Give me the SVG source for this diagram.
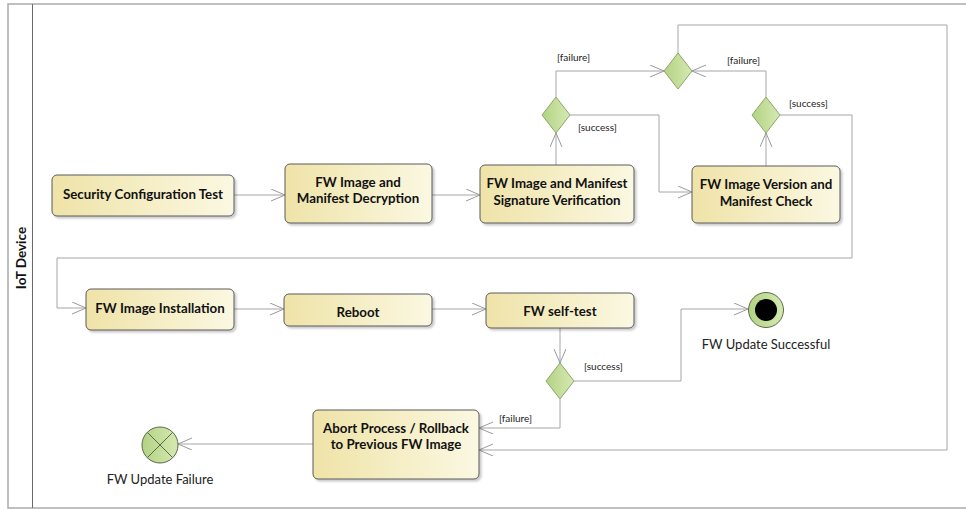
<svg xmlns="http://www.w3.org/2000/svg" width="966" height="509" viewBox="0 0 966 509">
<defs>
<linearGradient id="nodeGrad" x1="0" y1="0" x2="1" y2="0">
<stop offset="0" stop-color="#efe3a8"/>
<stop offset="1" stop-color="#fbf8e2"/>
</linearGradient>
<linearGradient id="greenGrad" x1="0" y1="0" x2="1" y2="0">
<stop offset="0" stop-color="#b3d383"/>
<stop offset="1" stop-color="#d5e9b2"/>
</linearGradient>
<filter id="shadow" x="-10%" y="-10%" width="130%" height="140%">
<feDropShadow dx="2" dy="2" stdDeviation="1.2" flood-color="#000" flood-opacity="0.22"/>
</filter>
<marker id="arr" markerUnits="userSpaceOnUse" markerWidth="16" markerHeight="14" refX="14" refY="6" orient="auto">
<path d="M0,0 L14,6 L0,12" fill="none" stroke="#9a9a9a" stroke-width="1"/>
</marker>
<style>
.node{fill:url(#nodeGrad);stroke:#5a5a5a;stroke-width:1;filter:url(#shadow)}
.dia{fill:url(#greenGrad);stroke:#8da56a;stroke-width:1}
.lbl{font-family:Lato,"Liberation Sans",sans-serif;font-weight:bold;font-size:13.3px;fill:#111;text-anchor:middle}
.guard{font-family:Lato,"Liberation Sans",sans-serif;font-size:10px;fill:#222}
.cap{font-family:Lato,"Liberation Sans",sans-serif;font-size:13px;fill:#222;text-anchor:middle}
.conn{fill:none;stroke:#a6a6a6;stroke-width:1;marker-end:url(#arr)}
</style>
</defs>
<rect x="0" y="0" width="966" height="509" fill="#fff"/>
<g id="frame">
<path d="M970,4 H8 V508 H970" fill="none" stroke="#aaaaaa" stroke-width="1.5"/>
<line x1="32.5" y1="4" x2="32.5" y2="508" stroke="#6a6a6a" stroke-width="1"/>
<text transform="translate(26,258) rotate(-90)" class="lbl" style="font-size:13.5px">IoT Device</text>
</g>
<g id="connectors">
<line class="conn" x1="234" y1="195" x2="285" y2="195"/>
<line class="conn" x1="432" y1="195" x2="480" y2="195"/>
<line class="conn" x1="556" y1="165" x2="556" y2="133"/>
<path class="conn" d="M556,97 V71 H664"/>
<path class="conn" d="M570,115 H659 V192 H692"/>
<line class="conn" x1="766" y1="166" x2="766" y2="133"/>
<path class="conn" d="M766,97 V71 H692"/>
<path class="conn" d="M780,115 H852 V258 H57 V308 H86"/>
<path class="conn" d="M678,53 V25 H947 V450 H479"/>
<line class="conn" x1="234" y1="309" x2="284" y2="309"/>
<line class="conn" x1="432" y1="309" x2="486" y2="309"/>
<line class="conn" x1="560" y1="328" x2="560" y2="363"/>
<path class="conn" d="M574,381 H681 V309 H748"/>
<path class="conn" d="M560,399 V428 H479"/>
<line class="conn" x1="313" y1="444" x2="178" y2="444"/>
<text class="guard" x="557" y="61">[failure]</text>
<text class="guard" x="578" y="131">[success]</text>
<text class="guard" x="727" y="64">[failure]</text>
<text class="guard" x="789" y="107">[success]</text>
<text class="guard" x="584" y="370">[success]</text>
<text class="guard" x="499" y="422">[failure]</text>
</g>
<g id="securityConfigTest">
<rect class="node" x="52" y="175" width="182" height="41" rx="5"/>
<text class="lbl" x="143" y="199">Security Configuration Test</text>
</g>
<g id="decryption">
<rect class="node" x="285" y="164" width="147" height="59" rx="5"/>
<text class="lbl" x="358" y="187">FW Image and</text>
<text class="lbl" x="358" y="203">Manifest Decryption</text>
</g>
<g id="signatureVerification">
<rect class="node" x="480" y="165" width="154" height="58" rx="5"/>
<text class="lbl" x="557" y="188">FW Image and Manifest</text>
<text class="lbl" x="557" y="205">Signature Verification</text>
</g>
<g id="versionCheck">
<rect class="node" x="692" y="166" width="148" height="57" rx="5"/>
<text class="lbl" x="766" y="189">FW Image Version and</text>
<text class="lbl" x="766" y="206">Manifest Check</text>
</g>
<g id="decision1">
<polygon class="dia" points="556,97 570,115 556,133 542,115"/>
</g>
<g id="decisionMerge">
<polygon class="dia" points="678,53 692,71 678,89 664,71"/>
</g>
<g id="decision2">
<polygon class="dia" points="766,97 780,115 766,133 752,115"/>
</g>
<g id="installation">
<rect class="node" x="86" y="289" width="148" height="41" rx="5"/>
<text class="lbl" x="160" y="313">FW Image Installation</text>
</g>
<g id="reboot">
<rect class="node" x="284" y="294" width="148" height="32" rx="5"/>
<text class="lbl" x="358" y="317">Reboot</text>
</g>
<g id="selfTest">
<rect class="node" x="486" y="293" width="148" height="35" rx="5"/>
<text class="lbl" x="560" y="316">FW self-test</text>
</g>
<g id="decision3">
<polygon class="dia" points="560,363 574,381 560,399 546,381"/>
</g>
<g id="successEnd">
<circle cx="766" cy="310" r="17.5" fill="url(#greenGrad)" stroke="#5a6a4a" stroke-width="1"/>
<circle cx="766" cy="310" r="11" fill="#000"/>
<text class="cap" x="766" y="349">FW Update Successful</text>
</g>
<g id="abort">
<rect class="node" x="313" y="410" width="166" height="69" rx="5"/>
<text class="lbl" x="396" y="433">Abort Process / Rollback</text>
<text class="lbl" x="396" y="449">to Previous FW Image</text>
</g>
<g id="failureEnd">
<circle cx="160" cy="445" r="18" fill="url(#greenGrad)" stroke="#5a6a4a" stroke-width="1"/>
<line x1="147.3" y1="432.3" x2="172.7" y2="457.7" stroke="#5a6a4a" stroke-width="1"/>
<line x1="172.7" y1="432.3" x2="147.3" y2="457.7" stroke="#5a6a4a" stroke-width="1"/>
<text class="cap" x="160" y="484">FW Update Failure</text>
</g>
</svg>
